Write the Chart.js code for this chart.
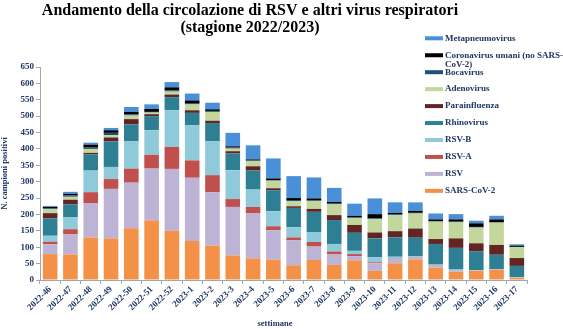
<!DOCTYPE html>
<html>
<head>
<meta charset="utf-8">
<script src="https://cdn.jsdelivr.net/npm/chart.js@4.4.0/dist/chart.umd.min.js"></script>
<style>
  html, body { margin: 0; padding: 0; background: #fff; }
  #wrap { width: 563px; height: 329px; position: relative; }
</style>
</head>
<body>
<div id="wrap"><canvas id="chart"></canvas></div>
<script>
const weeks = [
  "2022-46", "2022-47", "2022-48", "2022-49", "2022-50", "2022-51", "2022-52",
  "2023-1", "2023-2", "2023-3", "2023-4", "2023-5", "2023-6", "2023-7", "2023-8",
  "2023-9", "2023-10", "2023-11", "2023-12", "2023-13", "2023-14", "2023-15",
  "2023-16", "2023-17",
];

// values per virus, bottom of stack first
const sarsCov2 = [79, 78, 130, 127, 158, 182, 150, 119, 105, 75, 66, 62, 45, 61, 46, 60, 28, 51, 63, 38, 25, 28, 31, 7];
const rsv = [30, 61, 105, 151, 139, 158, 189, 193, 163, 148, 137, 90, 76, 41, 32, 13, 23, 13, 8, 8, 5, 1, 1, 1];
const rsvA = [8, 16, 33, 30, 43, 42, 67, 53, 52, 24, 20, 12, 9, 14, 9, 6, 3, 1, 0, 0, 0, 0, 0, 0];
const rsvB = [18, 36, 66, 37, 83, 75, 112, 107, 103, 88, 53, 46, 31, 29, 23, 10, 15, 6, 1, 1, 2, 1, 1, 1];
const rhinovirus = [53, 40, 49, 78, 52, 43, 40, 38, 56, 51, 58, 64, 59, 63, 73, 55, 58, 59, 57, 63, 66, 58, 44, 34];
const parainfluenza = [16, 14, 5, 12, 16, 6, 8, 8, 7, 7, 13, 6, 5, 9, 15, 24, 18, 19, 28, 15, 29, 24, 30, 24];
const adenovirus = [12, 9, 12, 7, 11, 5, 9, 18, 27, 8, 16, 23, 16, 24, 33, 21, 41, 49, 46, 53, 49, 48, 68, 33];
const bocavirus = [3, 4, 4, 7, 4, 2, 4, 4, 3, 3, 2, 2, 3, 2, 2, 2, 2, 3, 2, 2, 2, 2, 2, 1];
const coronavirus = [4, 5, 9, 8, 7, 9, 9, 8, 5, 4, 3, 5, 6, 6, 5, 5, 13, 4, 6, 5, 7, 11, 8, 4];
const metapneumovirus = [3, 6, 6, 7, 15, 14, 16, 21, 20, 41, 43, 61, 67, 64, 43, 37, 48, 32, 26, 18, 16, 8, 11, 4];

const yTicks = [0, 50, 100, 150, 200, 250, 300, 350, 400, 450, 500, 550, 600, 650];

const titleLines = [
  "Andamento della circolazione di RSV e altri virus respiratori",
  "(stagione 2022/2023)",
];
const xTitle = "settimane";

const serif = '"Liberation Serif", "Times New Roman", serif';
const navy = "#1f3864";
const axisGrey = "#a6a6a6";

const series = [
  { label: "SARS-CoV-2", data: sarsCov2, color: "#f39149" },
  { label: "RSV", data: rsv, color: "#bdb3d4" },
  { label: "RSV-A", data: rsvA, color: "#c0504d" },
  { label: "RSV-B", data: rsvB, color: "#8fcadb" },
  { label: "Rhinovirus", data: rhinovirus, color: "#2e7f94" },
  { label: "Parainfluenza", data: parainfluenza, color: "#632523" },
  { label: "Adenovirus", data: adenovirus, color: "#c3d69b" },
  { label: "Bocavirus", data: bocavirus, color: "#1f4e79" },
  { label: "Coronavirus umani (no SARS-CoV-2)", data: coronavirus, color: "#000000" },
  { label: "Metapneumovirus", data: metapneumovirus, color: "#4a90d9" },
];

// split a legend label into lines that fit maxW (break after spaces or hyphens)
function wrapText(ctx, text, maxW) {
  const parts = text.match(/[^ -]+-?|\s+/g) || [text];
  const lines = [];
  let cur = "";
  parts.forEach((p) => {
    const test = cur + p;
    if (ctx.measureText(test.trimEnd()).width > maxW && cur.trim()) {
      lines.push(cur.trimEnd());
      cur = p.trimStart();
    } else {
      cur = test;
    }
  });
  if (cur.trim()) lines.push(cur.trimEnd());
  return lines;
}

const overlay = {
  id: "overlay",
  afterDraw(chart) {
    const ctx = chart.ctx;
    ctx.save();
    // title
    ctx.fillStyle = "#000";
    ctx.font = "bold 16px " + serif;
    ctx.textAlign = "center";
    ctx.textBaseline = "middle";
    titleLines.forEach((t, i) => ctx.fillText(t, 250, 11 + i * 16.5));

    // x axis title, a bit left of the plot centre as in the original
    ctx.fillStyle = navy;
    ctx.font = "bold 8.5px " + serif;
    ctx.fillText(xTitle, 275, 324);

    // legend, top entry = last dataset
    ctx.font = "bold 9px " + serif;
    ctx.textAlign = "left";
    const ds = chart.data.datasets.slice().reverse();
    ds.forEach((d, i) => {
      const y = 38.3 + i * 16.95;
      ctx.fillStyle = d.backgroundColor;
      ctx.fillRect(425, y - 2, 18, 4);
      ctx.fillStyle = navy;
      wrapText(ctx, d.label, 122).forEach((line, j) => {
        ctx.fillText(line, 445, y + j * 9.3);
      });
    });
    ctx.restore();
  },
};

new Chart(document.getElementById("chart"), {
  type: "bar",
  data: {
    labels: weeks,
    datasets: series.map((s) => ({
      label: s.label,
      data: s.data,
      backgroundColor: s.color,
      borderWidth: 0,
      barPercentage: 0.72,
      categoryPercentage: 1.0,
    })),
  },
  options: {
    responsive: true,
    maintainAspectRatio: false,
    animation: false,
    layout: { padding: { top: 67, right: 36, left: 0, bottom: 0 } },
    plugins: {
      legend: { display: false },
      title: { display: false },
      tooltip: { enabled: false },
    },
    scales: {
      x: {
        stacked: true,
        afterFit: (s) => { s.height = 49; },
        border: { color: axisGrey, width: 1 },
        grid: { display: true, drawOnChartArea: false, color: axisGrey, tickLength: 4 },
        ticks: {
          autoSkip: false,
          maxRotation: 45,
          minRotation: 45,
          padding: 0,
          color: navy,
          font: { family: serif, size: 9, weight: "bold" },
        },
      },
      y: {
        stacked: true,
        min: 0,
        max: 650,
        afterFit: (s) => { s.width = 40; },
        afterBuildTicks: (s) => { s.ticks = yTicks.map((v) => ({ value: v })); },
        border: { color: axisGrey, width: 1 },
        grid: { display: true, drawOnChartArea: false, color: axisGrey, tickLength: 4 },
        ticks: {
          padding: 2,
          color: navy,
          font: { family: serif, size: 9, weight: "bold" },
        },
        title: {
          display: true,
          text: "N. campioni positivi",
          color: navy,
          padding: { top: 0, bottom: 0 },
          font: { family: serif, size: 8.5, weight: "bold" },
        },
      },
    },
  },
  plugins: [overlay],
});
</script>
</body>
</html>
